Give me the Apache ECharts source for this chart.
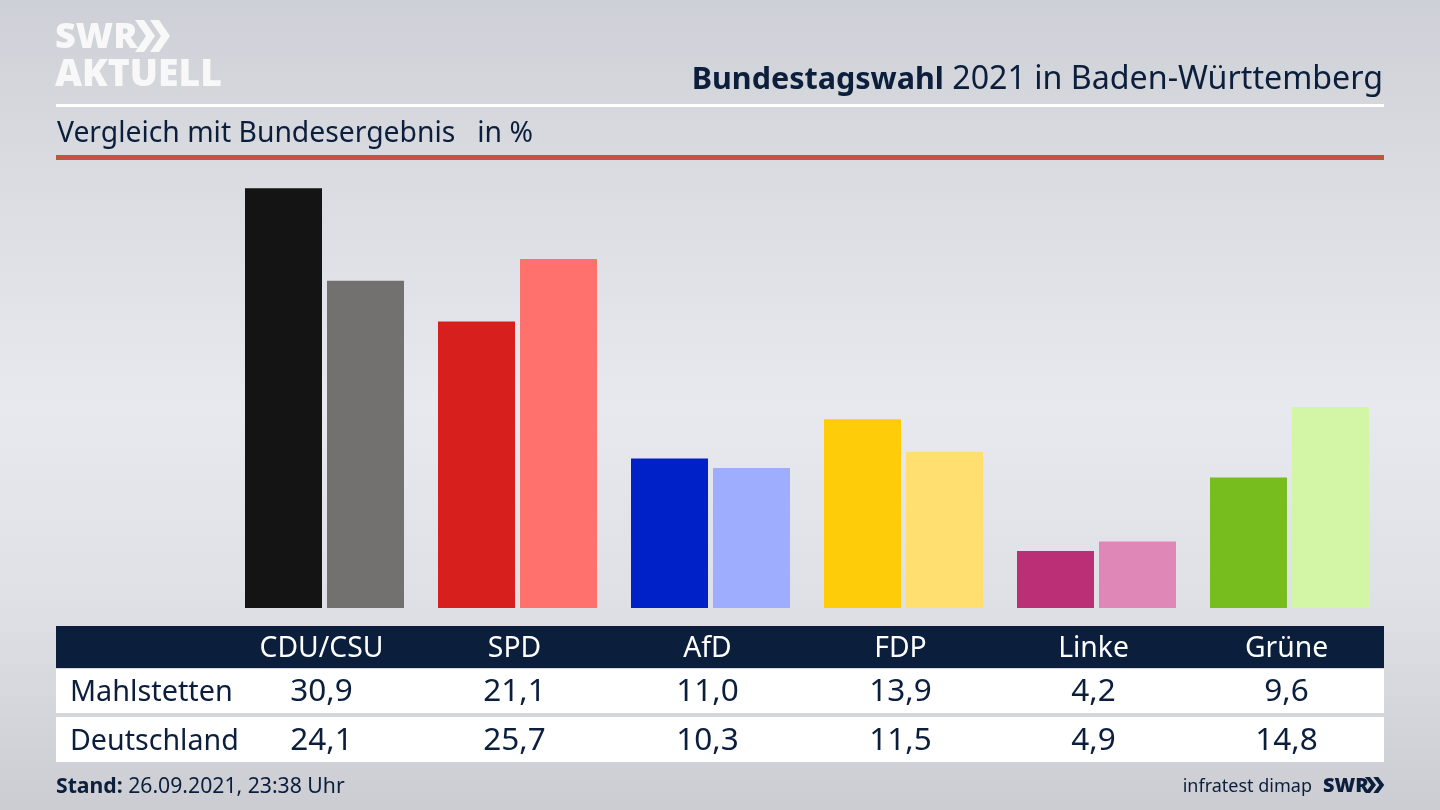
<!DOCTYPE html>
<html><head><meta charset="utf-8">
<style>html,body{margin:0;padding:0;background:#d8dade}#c{width:1440px;height:810px}</style>
<script src="https://cdn.jsdelivr.net/npm/echarts@6/dist/echarts.min.js"></script>
</head><body><div id="c"></div>
<script>
const parties = ['CDU/CSU','SPD','AfD','FDP','Linke','Grüne'];
const regionName = 'Mahlstetten';
const nationName = 'Deutschland';
const regionValues = [30.9,21.1,11.0,13.9,4.2,9.6];
const nationValues = [24.1,25.7,10.3,11.5,4.9,14.8];
const regionColors = ['#141414','#d71f1d','#0021c8','#ffcc0a','#bb2f77','#78bd1e'];
const nationColors = ['#72716f','#ff716c','#9fadff','#ffdf70','#df88b8','#d2f6a5'];
const titleBold = 'Bundestagswahl';
const titleRest = ' 2021 in Baden-Württemberg';
const subtitle = 'Vergleich mit Bundesergebnis   in %';
const standLabel = 'Stand:';
const standText = ' 26.09.2021, 23:38 Uhr';
const source = 'infratest dimap';

const FONT = '"Noto Sans","Open Sans",sans-serif';
const NAVY = '#0b1f3d';
const fmt = v => v.toFixed(1).replace('.', ',');
const chev = (x,y,w,h,fill) => [0,1].map(i => {
  const o = x + i*w*0.75;
  return {type:'polygon', z:5, style:{fill},
    shape:{points:[[o,y],[o+w*0.45,y],[o+w,y+h/2],[o+w*0.45,y+h],[o,y+h],[o+w*0.55,y+h/2]]}};
});
const rect = (x,y,w,h,fill) => ({type:'rect',z:-1,silent:true,shape:{x,y,width:w,height:h},style:{fill}});
const txt = (x,y,text,fontSize,fill,extra={}) => ({type:'text',z:5,x,y,style:Object.assign({text,fontSize,fill,fontFamily:FONT,textVerticalAlign:'middle'},extra)});
const rowAxis = (labels, offset, color, fontSize) => ({
  type:'category', position:'bottom', gridIndex:0, data:labels, offset,
  axisLine:{show:false}, axisTick:{show:false}, splitLine:{show:false},
  axisLabel:{color, fontSize, fontFamily:FONT, margin:0, lineHeight:36, interval:0, padding:[0,6,0,0]}
});
const chart = echarts.init(document.getElementById('c'), null, {renderer:'canvas'});
chart.setOption({
  animation:false,
  backgroundColor:{type:'linear',x:0,y:0,x2:0,y2:1,colorStops:[
    {offset:0,color:'#cdd0d6'},{offset:0.2,color:'#d9dbe0'},{offset:0.5,color:'#e8e9ee'},
    {offset:0.75,color:'#dfe0e5'},{offset:1,color:'#cbcdd3'}]},
  grid:{left:228,top:173.4,width:1158,height:434.6,containLabel:false},
  xAxis:[
    rowAxis(parties,23,'#ffffff',28.3),
    rowAxis(regionValues.map(fmt),66,NAVY,31.5),
    rowAxis(nationValues.map(fmt),115,NAVY,31.5)
  ],
  yAxis:{type:'value',min:0,max:32,show:false},
  series:[
    {type:'bar',name:regionName,xAxisIndex:0,barWidth:77,barGap:'6.5%',data:regionValues,
     itemStyle:{color:p=>regionColors[p.dataIndex]}},
    {type:'bar',name:nationName,xAxisIndex:0,barWidth:77,barGap:'6.5%',data:nationValues,
     itemStyle:{color:p=>nationColors[p.dataIndex]}}
  ],
  graphic:[
    rect(56,104,1328,3,'#ffffff'),
    rect(56,155,1328,5,'#c8503f'),
    rect(56,626,1328,42,NAVY),
    rect(56,669,1328,44,'#ffffff'),
    rect(56,717,1328,45,'#ffffff'),
    txt(55,38,'SWR',36,'#f8f8f8',{fontWeight:800,fontFamily:'"Open Sans",sans-serif'}),
    txt(55,75,'AKTUELL',37.3,'#f8f8f8',{fontWeight:800,fontFamily:'"Open Sans",sans-serif'}),
    ...chev(135,20,20,32,'#f8f8f8'),
    txt(1383,80,`{b|${titleBold}}{r|${titleRest}}`,32,NAVY,{align:'right',
      rich:{b:{fontSize:30.5,fontWeight:'bold',fill:NAVY,fontFamily:FONT},r:{fontSize:32.2,fill:NAVY,fontFamily:FONT}}}),
    txt(57,134,subtitle,28.3,NAVY),
    txt(70,693,regionName,28.8,NAVY),
    txt(70,742,nationName,28.6,NAVY),
    txt(56,787,`{b|${standLabel}}{r|${standText}}`,21.2,NAVY,{
      rich:{b:{fontSize:21.2,fontWeight:'bold',fill:NAVY,fontFamily:FONT},r:{fontSize:21.2,fill:NAVY,fontFamily:FONT}}}),
    txt(1312,787,source,18,NAVY,{align:'right'}),
    txt(1323,786,'SWR',20,NAVY,{fontWeight:800,fontFamily:'"Open Sans",sans-serif'}),
    ...chev(1365,777,11,16,NAVY)
  ]
});
</script></body></html>
